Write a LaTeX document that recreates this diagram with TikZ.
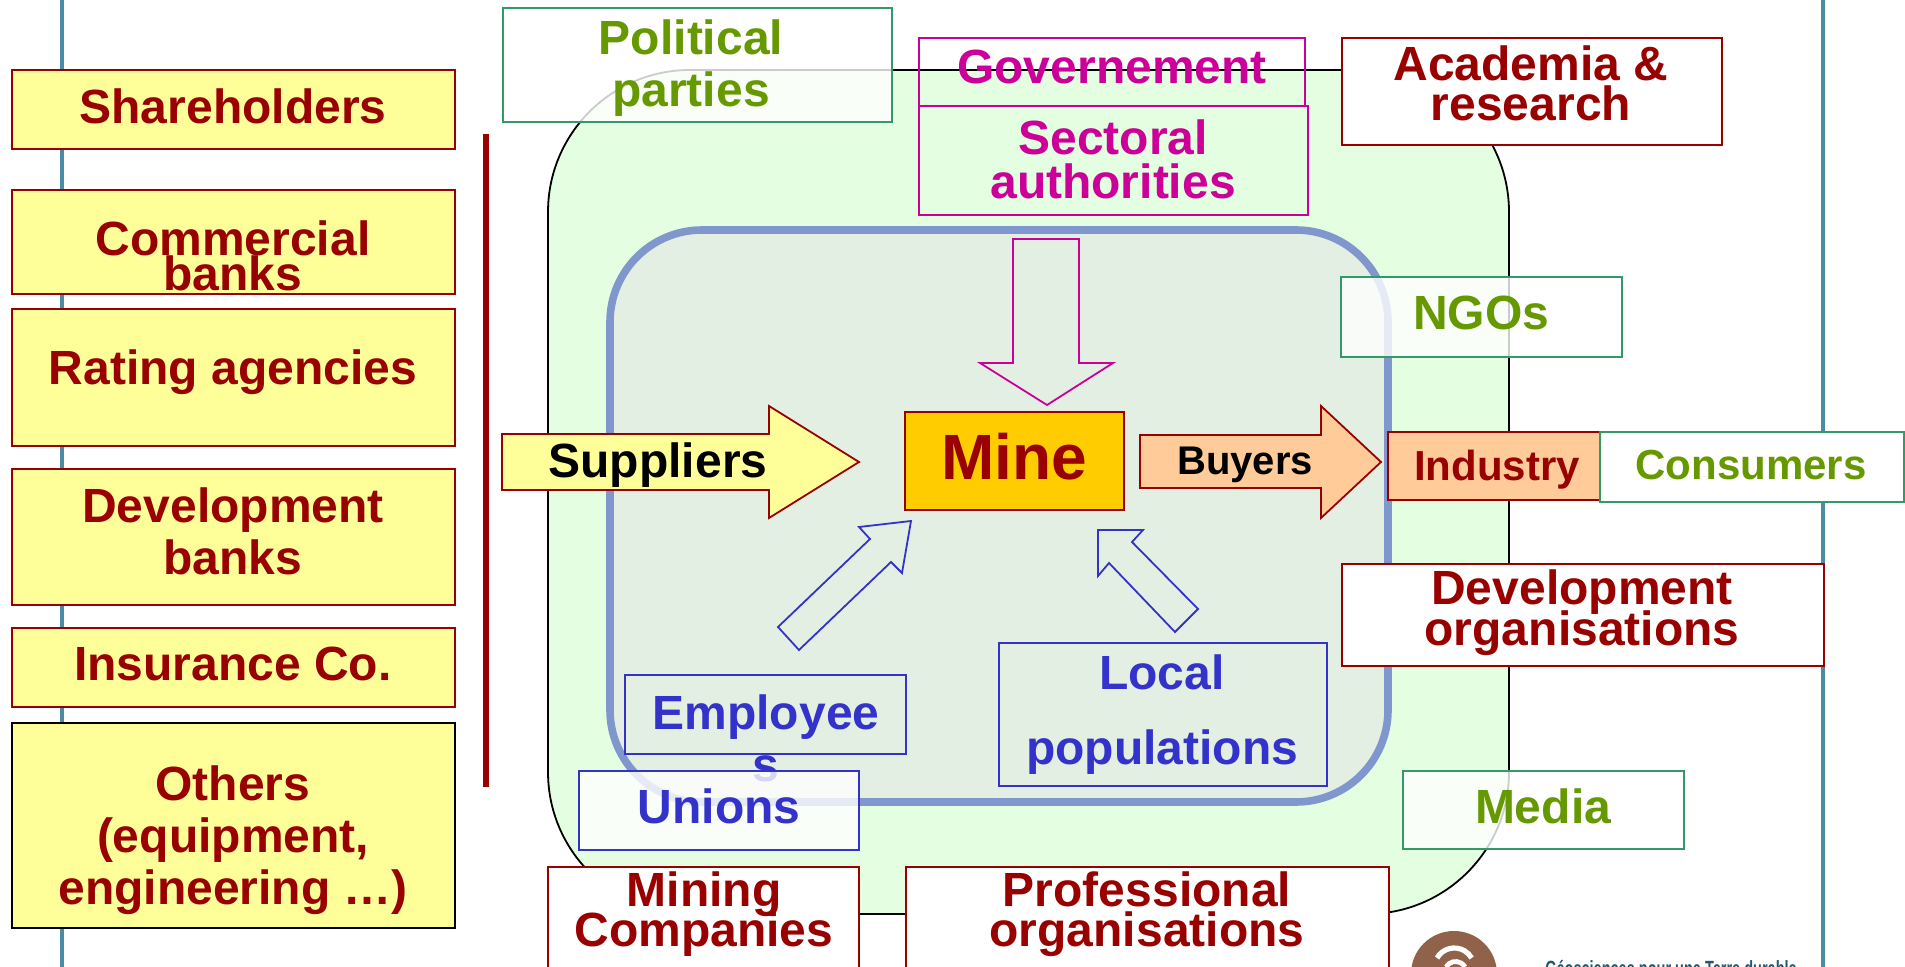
\documentclass[tikz,border=0pt]{standalone}
\usepackage{fontspec}
\setmainfont{Liberation Sans}

\definecolor{tealline}{HTML}{4A8CA6}
\definecolor{outerfill}{HTML}{E4FEE2}
\definecolor{innerfill}{HTML}{E4EFE3}
\definecolor{innerline}{HTML}{7F97CC}
\definecolor{darkred}{HTML}{990000}
\definecolor{paleyellow}{HTML}{FFFF99}
\definecolor{peach}{HTML}{FFCC99}
\definecolor{gold}{HTML}{FFCC00}
\definecolor{leaf}{HTML}{669900}
\definecolor{leafline}{HTML}{339966}
\definecolor{pinkish}{HTML}{CC0099}
\definecolor{bluish}{HTML}{3333CC}
\definecolor{logobrown}{HTML}{8F6249}
\definecolor{logotext}{HTML}{1F5A70}

\newcommand{\tsize}[2]{\fontsize{#1}{#2}\selectfont\bfseries\lineskiplimit=-100pt}

\tikzset{
  boxtext/.style={align=center, inner sep=0pt, text opacity=1, font=\tsize{24}{26}},
  redtext/.style={boxtext, text=darkred},
  leaftext/.style={boxtext, text=leaf},
  pinktext/.style={boxtext, text=pinkish},
  bluetext/.style={boxtext, text=bluish},
  yellowbox/.style={draw=darkred, fill=paleyellow, line width=1.1pt},
  whitebox/.style={draw=darkred, fill=white, line width=1.1pt},
  leafbox/.style={draw=leafline, fill=white, fill opacity=0.8, line width=1.1pt},
  pinkbox/.style={draw=pinkish, line width=1.1pt},
  bluebox/.style={draw=bluish, line width=1.1pt},
  glassbox/.style={draw=bluish, fill=white, fill opacity=0.8, line width=1.1pt}
}

\begin{document}
\begin{tikzpicture}[x=0.5pt, y=-0.5pt]
\useasboundingbox (0,0) rectangle (1905,967);

% side rules
\draw[tealline, line width=1.6pt] (62,0) -- (62,967);
\draw[tealline, line width=1.6pt] (1823,0) -- (1823,967);

% the two rounded areas
\draw[black, fill=outerfill, line width=0.9pt, rounded corners=71pt] (548,70) rectangle (1509,914);
\draw[innerline, fill=innerfill, line width=3.8pt, rounded corners=46pt] (610,230) rectangle (1388,802);

% finance column
\draw[darkred, line width=3pt] (486,134) -- (486,787);
\draw[yellowbox] (12,70) rectangle (455,149) node[redtext] (shareholders) at (233,106) {Shareholders};
\draw[yellowbox] (12,190) rectangle (455,294) node[redtext, font=\tsize{24}{17.5}] (commercial) at (233,256) {Commercial\\banks};
\draw[yellowbox] (12,309) rectangle (455,446) node[redtext] (rating) at (233,372) {Rating agencies};
\draw[yellowbox] (12,469) rectangle (455,605) node[redtext] (devbanks) at (233,531) {Development\\banks};
\draw[yellowbox] (12,628) rectangle (455,707) node[redtext] (insurance) at (233,664) {Insurance Co.};
\draw[yellowbox, draw=black, line width=0.8pt] (12,723) rectangle (455,928) node[redtext] (others) at (233,840) {Others\\(equipment,\\engineering …)};

% authorities
\draw[leafbox] (503,8) rectangle (892,122) node[leaftext] (political) at (691,68) {Political\\parties};
\draw[pinkbox] (919,38) rectangle (1305,106) node[pinktext] (government) at (1112,67) {Governement};
\draw[pinkbox] (919,106) rectangle (1308,215) node[pinktext, font=\tsize{24}{22}] (sectoral) at (1113,159) {Sectoral\\authorities};
\draw[whitebox] (1342,38) rectangle (1722,145) node[redtext, font=\tsize{24}{20}] (academia) at (1531,83) {Academia \&\\research};
\draw[pinkbox, line width=0.9pt] (1013,239) -- (1079,239) -- (1079,363) -- (1113,363) -- (1047,405) -- (980,363) -- (1013,363) -- cycle;

% the chain
\draw[darkred, fill=paleyellow, line width=0.9pt] (502,434) -- (769,434) -- (769,406) -- (859,462) -- (769,518) -- (769,490) -- (502,490) -- cycle;
\node[boxtext, text=black] (suppliers) at (658,465) {Suppliers};
\node[draw=darkred, fill=gold, line width=1.2pt, minimum width=109.5pt, minimum height=49pt, inner sep=0pt, text depth=5pt, text=darkred, font=\tsize{32}{34}] (mine) at (1014.5,461) {Mine};
\draw[darkred, fill=peach, line width=0.9pt] (1140,435) -- (1321,435) -- (1321,406) -- (1381,462) -- (1321,518) -- (1321,488) -- (1140,488) -- cycle;
\node[boxtext, text=black, font=\tsize{20}{22}] (buyers) at (1245,465) {Buyers};
\draw[darkred, fill=peach, line width=1.1pt] (1388,432) rectangle (1600,500) node[redtext, font=\tsize{21}{23}] (industry) at (1497,470) {Industry};
\draw[leafline, fill=white, line width=1.4pt] (1600,432) rectangle (1904,502) node[leaftext, font=\tsize{21}{23}] (consumers) at (1751,465) {Consumers};

% people
\draw[bluebox, line width=0.9pt] (778,627) -- (799,650) -- (891,562) -- (902,573) -- (911,521) -- (859,527) -- (870,539) -- cycle;
\draw[bluebox, line width=0.9pt] (1098,530) -- (1143,530) -- (1132,542) -- (1198,609) -- (1175,632) -- (1109,563) -- (1098,576) -- cycle;
\draw[bluebox] (625,675) rectangle (906,754) node[bluetext] (employees) at (766,738) {Employee\\s};
\draw[bluebox] (999,643) rectangle (1327,786) node[bluetext, font=\tsize{24}{37.5}] (local) at (1162,715) {Local\\populations};
\draw[glassbox] (579,771) rectangle (859,850) node[bluetext] (unions) at (719,806) {Unions};

% civil society
\draw[leafbox] (1341,277) rectangle (1622,357) node[leaftext] (ngos) at (1481,313) {NGOs};
\draw[whitebox] (1342,564) rectangle (1824,666) node[redtext, font=\tsize{24}{20.5}] (devorgs) at (1582,613) {Development\\organisations};
\draw[leafbox] (1403,771) rectangle (1684,849) node[leaftext] (media) at (1543,806) {Media};
\draw[whitebox] (548,867) rectangle (859,990) node[redtext, font=\tsize{24}{20}] (mining) at (704,914) {Mining\\Companies};
\draw[whitebox] (906,867) rectangle (1389,990) node[redtext, font=\tsize{24}{20}] (professional) at (1147,914) {Professional\\organisations};

% logo
\fill[logobrown] (1454,974) circle (21.5pt);
\draw[white, line width=2.6pt] (1437,958) arc[start angle=150, end angle=30, radius=10pt];
\draw[white, line width=2.4pt] (1446,967) arc[start angle=150, end angle=30, radius=5.5pt];
\node[inner sep=0pt, text=logotext, xscale=0.66, font=\fontsize{11}{13}\selectfont\bfseries] (slogan) at (1671,971) {Géosciences pour une Terre durable};

\end{tikzpicture}
\end{document}
